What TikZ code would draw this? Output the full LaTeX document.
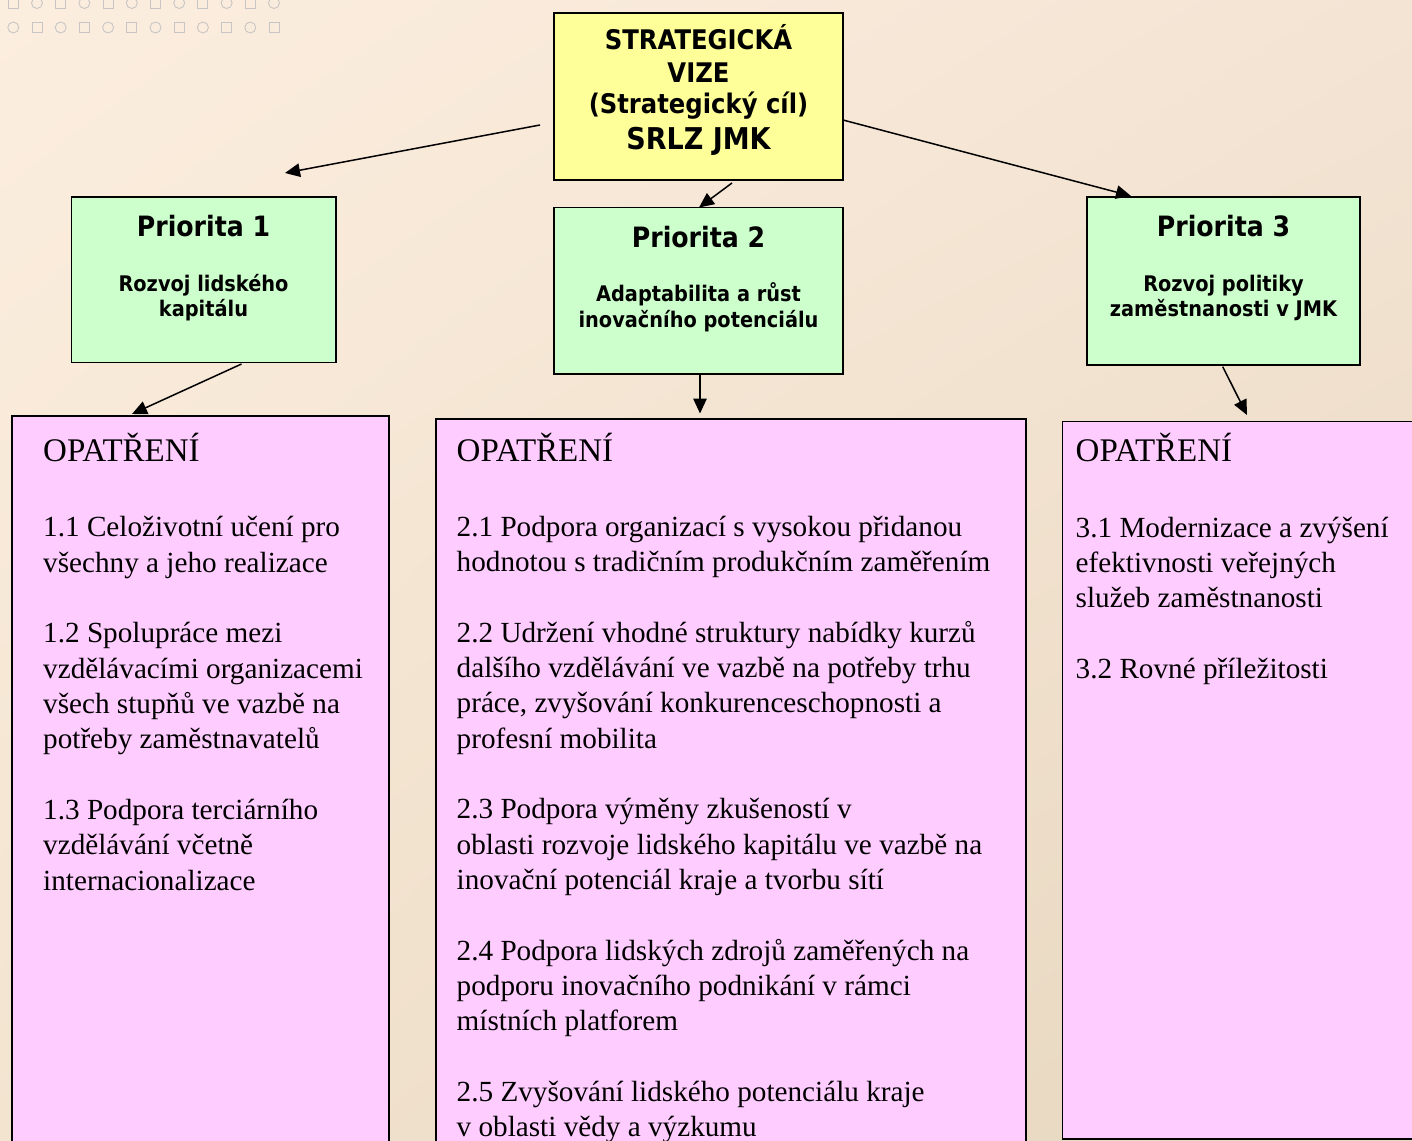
\documentclass[tikz,border=0pt]{standalone}
\usepackage{fontspec}
\setmainfont{Liberation Serif}
\newfontfamily\hd{DejaVu Sans}[FakeStretch=0.9]
\usetikzlibrary{arrows.meta,shadings}
\definecolor{bgUL}{RGB}{252,238,223}
\definecolor{bgUR}{RGB}{244,228,212}
\definecolor{bgLL}{RGB}{243,228,208}
\definecolor{bgLR}{RGB}{230,214,190}
\definecolor{yelfill}{RGB}{255,255,153}
\definecolor{grnfill}{RGB}{204,255,204}
\definecolor{pnkfill}{RGB}{255,204,255}
\definecolor{decogray}{RGB}{200,198,196}
\begin{document}
\begin{tikzpicture}[x=1pt,y=-1pt,
  boxbase/.style={draw=black, line width=1.6pt, anchor=north west, inner sep=0pt, outer sep=0pt},
  topbox/.style={boxbase, fill=yelfill},
  prbox/.style={boxbase, fill=grnfill},
  opbox/.style={boxbase, fill=pnkfill},
  hdA/.style={anchor=base, inner sep=0pt, font=\hd\bfseries\fontsize{27}{30}\selectfont},
  hdB/.style={anchor=base, inner sep=0pt, font=\hd\bfseries\fontsize{30}{34}\selectfont},
  prtitle/.style={anchor=base, inner sep=0pt, font=\hd\bfseries\fontsize{28}{32}\selectfont},
  prsub/.style={anchor=base, inner sep=0pt, font=\hd\bfseries\fontsize{21.5}{25}\selectfont},
  optitle/.style={anchor=base west, inner sep=0pt, font=\fontsize{33}{36}\selectfont},
  opbody/.style={anchor=base west, inner sep=0pt, font=\fontsize{29.2}{35.35}\selectfont},
  conn/.style={line width=1.5pt, -{Triangle[length=15pt,width=13.5pt]}},
  deco/.style={draw=decogray, line width=0.9pt}]
\useasboundingbox (0,0) rectangle (1412,1140);
\shade[upper left=bgUL, upper right=bgUR, lower left=bgLL, lower right=bgLR] (0,0) rectangle (1412,1140);
% decoration
\foreach \i in {0,...,5} {
  \draw[deco] ({13.3+47.4*\i-5},-2) rectangle ++(10,10);
  \draw[deco] ({37+47.4*\i},3) circle[radius=5.5pt];
  \draw[deco] ({13.3+47.4*\i},27.5) circle[radius=5.5pt];
  \draw[deco] ({37+47.4*\i-5},22.5) rectangle ++(10,10);
}
\begin{scope}
\clip (0,0) rectangle (1412,1140);
% boxes
\node[topbox, minimum width=289pt, minimum height=167pt] (top) at (554,13) {};
\node[prbox, minimum width=264.5pt, minimum height=165.5pt] (p1) at (71.5,197) {};
\node[prbox, minimum width=289pt, minimum height=166.5pt] (p2) at (554,207.5) {};
\node[prbox, minimum width=273pt, minimum height=168pt] (p3) at (1087,197) {};
\node[opbox, minimum width=377pt, minimum height=760pt] (o1) at (12,416) {};
\node[opbox, minimum width=590pt, minimum height=760pt] (o2) at (436,419) {};
\node[opbox, minimum width=360pt, minimum height=717.5pt] (o3) at (1062.5,421.5) {};
\end{scope}
% top text
\node[hdA] (s1) at (698.5,50) {STRATEGICKÁ};
\node[hdA] (s2) at (698.5,82) {VIZE};
\node[hdA] (s3) at (698.5,113) {(Strategický cíl)};
\node[hdB] (s4) at (698.5,149) {SRLZ JMK};
% priority text
\node[prtitle] (p1t) at (203.5,236) {Priorita 1};
\node[prsub] (p1a) at (203.5,291) {Rozvoj lidského};
\node[prsub] (p1b) at (203.5,316) {kapitálu};
\node[prtitle] (p2t) at (698.5,247) {Priorita 2};
\node[prsub] (p2a) at (698.5,301) {Adaptabilita a růst};
\node[prsub] (p2b) at (698.5,327) {inovačního potenciálu};
\node[prtitle] (p3t) at (1223.5,236) {Priorita 3};
\node[prsub] (p3a) at (1223.5,291) {Rozvoj politiky};
\node[prsub] (p3b) at (1223.5,316) {zaměstnanosti v JMK};
% measures text
\node[optitle] (o1t) at (43,461) {OPATŘENÍ};
\node[opbody] (o1b) at (43,536.7) {\parbox[t]{600pt}{1.1 Celoživotní učení pro\\všechny a jeho realizace\\[35.35pt]1.2 Spolupráce mezi\\vzdělávacími organizacemi\\všech stupňů ve vazbě na\\potřeby zaměstnavatelů\\[35.35pt]1.3 Podpora terciárního\\vzdělávání včetně\\internacionalizace}};
\node[optitle] (o2t) at (456.5,461) {OPATŘENÍ};
\node[opbody] (o2b) at (456.5,536) {\parbox[t]{700pt}{2.1 Podpora organizací s vysokou přidanou\\hodnotou s tradičním produkčním zaměřením\\[35.35pt]2.2 Udržení vhodné struktury nabídky kurzů\\dalšího vzdělávání ve vazbě na potřeby trhu\\práce, zvyšování konkurenceschopnosti a\\profesní mobilita\\[35.35pt]2.3 Podpora výměny zkušeností v\\oblasti rozvoje lidského kapitálu ve vazbě na\\inovační potenciál kraje a tvorbu sítí\\[35.35pt]2.4 Podpora lidských zdrojů zaměřených na\\podporu inovačního podnikání v rámci\\místních platforem\\[35.35pt]2.5 Zvyšování lidského potenciálu kraje\\v oblasti vědy a výzkumu}};
\node[optitle] (o3t) at (1075.5,461) {OPATŘENÍ};
\node[opbody] (o3b) at (1075.5,537) {\parbox[t]{400pt}{3.1 Modernizace a zvýšení\\efektivnosti veřejných\\služeb zaměstnanosti\\[35.35pt]3.2 Rovné příležitosti}};
% connectors
\coordinate (a1s) at (540,125);   \coordinate (a1e) at (285,173);
\coordinate (a2s) at (843,120);   \coordinate (a2e) at (1131,196);
\coordinate (a3s) at (732,183);   \coordinate (a3e) at (699,207.5);
\coordinate (a4s) at (241.5,364); \coordinate (a4e) at (132,414);
\coordinate (a5s) at (700,374);   \coordinate (a5e) at (700,413.5);
\coordinate (a6s) at (1222.7,366.7); \coordinate (a6e) at (1247,415);
\draw[conn] (a1s) -- (a1e);
\draw[conn] (a2s) -- (a2e);
\draw[conn] (a3s) -- (a3e);
\draw[conn] (a4s) -- (a4e);
\draw[conn] (a5s) -- (a5e);
\draw[conn] (a6s) -- (a6e);
\end{tikzpicture}
\end{document}
